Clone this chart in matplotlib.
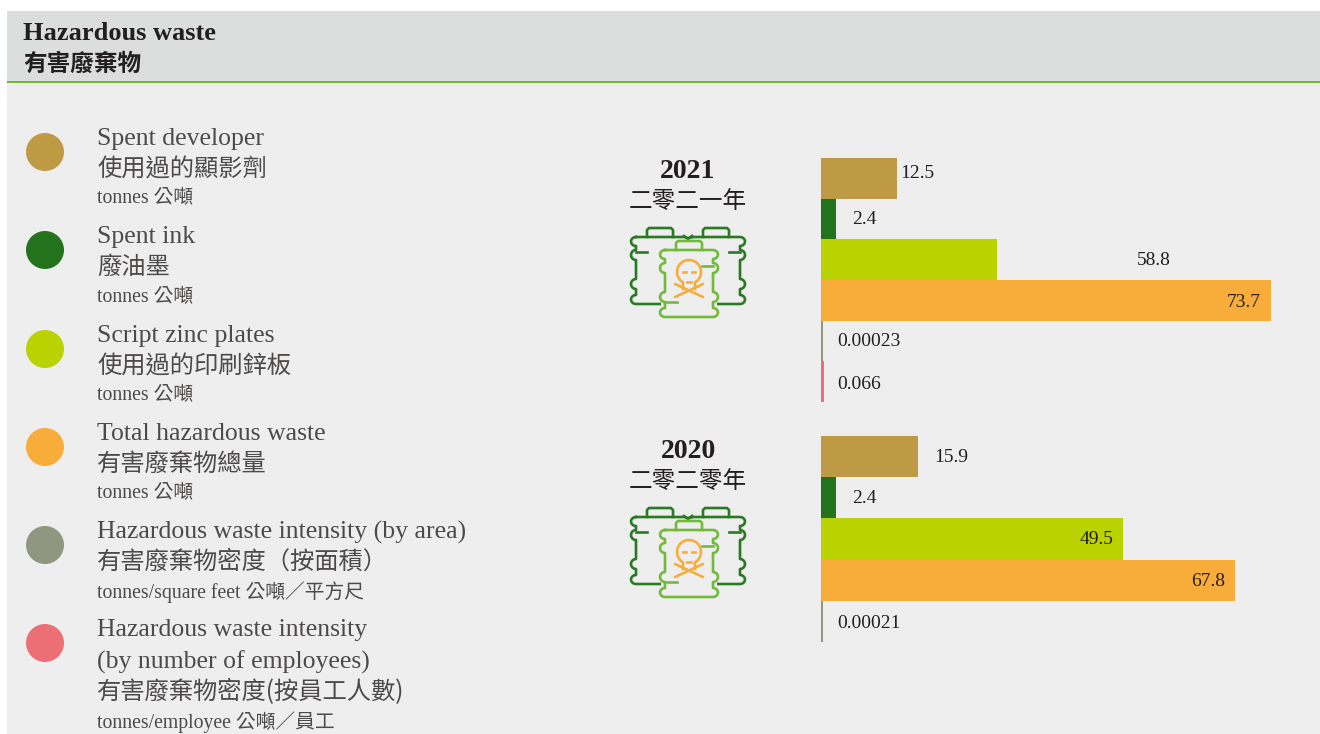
import numpy as np
import matplotlib
matplotlib.use('Agg')
import matplotlib.pyplot as plt
from matplotlib.patches import Rectangle, Circle

SERIF = ['Liberation Serif', 'Noto Sans CJK TC', 'DejaVu Sans']
CJK = ['Noto Sans CJK TC', 'DejaVu Sans']
plt.rcParams['font.family'] = SERIF

W, H = 1320, 734
PX_PER_UNIT = 6.106

# Data
colors = ['#bf9a45', '#23721c', '#bad300', '#f8ac3a', '#8f9781', '#ed6f76']
# drawn bar lengths (the tiny ones have a minimum width)
lengths_2021 = [12.5, 2.4, 28.8, 73.7, 0.3, 0.5]
lengths_2020 = [15.9, 2.4, 49.5, 67.8, 0.3]
labels_2021 = ['12.5', '2.4', '58.8', '73.7', '0.00023', '0.066']
labels_2020 = ['15.9', '2.4', '49.5', '67.8', '0.00021']

legend_en = [['Spent developer'], ['Spent ink'], ['Script zinc plates'],
             ['Total hazardous waste'], ['Hazardous waste intensity (by area)'],
             ['Hazardous waste intensity', '(by number of employees)']]
legend_zh = ['使用過的顯影劑', '廢油墨', '使用過的印刷鋅板', '有害廢棄物總量',
             '有害廢棄物密度（按面積）', '有害廢棄物密度(按員工人數)']
legend_unit = ['tonnes 公噸', 'tonnes 公噸', 'tonnes 公噸', 'tonnes 公噸',
               'tonnes/square feet 公噸／平方尺', 'tonnes/employee 公噸／員工']

# Layout (pixels)
legend_dots_y = [152, 250, 349, 447, 545, 643]
legend_rows_y = [[136, 167, 197], [234, 265, 296], [333, 364, 394],
                 [431, 462, 492], [529, 560, 591], [627, 659, 690, 721]]
label_x_2021 = [900, 852, 1137, 1227, 837, 837]
label_x_2020 = [934, 852, 1080, 1191, 837]
label_dy_2021 = [-5, 1, 1, 2, 1, 3]
label_dy_2020 = [1, 1, 1, 1, 2]
BAR_X0 = 821
TEXT = '#231f20'
GREY_TEXT = '#4d4a4a'

fig = plt.figure(figsize=(W / 100, H / 100), dpi=100, facecolor='white')

# full figure axes in pixel coordinates for the panel and texts
bg = fig.add_axes([0, 0, 1, 1])
bg.set_xlim(0, W)
bg.set_ylim(H, 0)
bg.axis('off')
bg.add_patch(Rectangle((7, 11), W - 7, H - 11, fc='#eeeeee', ec='none'))
bg.add_patch(Rectangle((7, 11), W - 7, 70, fc='#dcdedd', ec='none'))
bg.add_patch(Rectangle((7, 80.5), W - 7, 2.5, fc='#6cbb2e', ec='none'))

bg.text(23, 34, 'Hazardous waste', fontsize=19, fontweight='bold', color=TEXT, va='center')
bg.text(23, 64, '有害廢棄物', fontsize=17, fontweight='bold', family=CJK, color=TEXT, va='center')

for i, y in enumerate(legend_dots_y):
    bg.add_patch(Circle((45, y), 19, fc=colors[i], ec='none'))
    rows = legend_rows_y[i]
    for j, line in enumerate(legend_en[i]):
        bg.text(97, rows[j] + 3, line, fontsize=18.5, color=GREY_TEXT, va='center')
    bg.text(97, rows[-2] + 2, legend_zh[i], fontsize=17.5, family=CJK, color=GREY_TEXT, va='center')
    bg.text(97, rows[-1] + 1, legend_unit[i], fontsize=14.2, color=GREY_TEXT, va='center')


def barrel(cx, top, half, color, z):
    # outline of one barrel, mirrored around cx; the sides carry four rounded bumps
    xs, ys = [-half + 5], [top + 9]
    for y1, y2 in [(9, 18), (22, 32), (51, 61), (67, 76)]:
        s = np.linspace(0, np.pi, 12)
        xs += list(-half + 5 - 5 * np.sin(s))
        ys += list(top + y1 + (y2 - y1) * (1 - np.cos(s)) / 2)
    xs = np.array(xs)
    ys = np.array(ys)
    px = np.concatenate([cx + xs, cx - xs[::-1], [cx + xs[0]]])
    py = np.concatenate([ys, ys[::-1], [ys[0]]])
    bg.plot(px, py, color=color, lw=1.9, solid_joinstyle='round', zorder=z)
    # lid
    bg.plot([cx - 13, cx - 13, cx - 11, cx + 11, cx + 13, cx + 13],
            [top + 9, top + 2, top, top, top + 2, top + 9],
            color=color, lw=1.9, solid_joinstyle='round', zorder=z)


def icon(dy):
    dark, light, orange = '#2a7a24', '#72bb3a', '#f8ac3a'
    barrel(660, 228 + dy, 29, dark, 2)
    barrel(716, 228 + dy, 29, dark, 2)
    # front barrel hides the inner half of the back ones
    bg.add_patch(Rectangle((661, 239 + dy), 56, 78, fc='#eeeeee', ec='none', zorder=2.5))
    bg.plot([684, 688, 692], [236 + dy, 239 + dy, 236 + dy], color=dark, lw=1.9, zorder=2.6)
    barrel(689, 241 + dy, 29, light, 3)
    # short ticks on the barrel sides
    bg.plot([636, 647], [252 + dy, 252 + dy], color=dark, lw=1.9, zorder=2)
    bg.plot([729, 740], [252 + dy, 252 + dy], color=dark, lw=1.9, zorder=2)
    bg.plot([665, 677], [302 + dy, 302 + dy], color=light, lw=1.9, zorder=3)
    bg.plot([702, 713], [266 + dy, 266 + dy], color=light, lw=1.9, zorder=3)
    # skull and bones
    t = np.linspace(np.radians(-60), np.radians(240), 40)
    hx = 689 + 12 * np.cos(t)
    hy = 272 + dy - 12 * np.sin(t)
    bg.plot(np.concatenate([[695], hx, [683]]), np.concatenate([[289 + dy], hy, [289 + dy]]),
            color=orange, lw=1.9, zorder=4)
    for x1, x2, y1 in [(683, 686, 272), (692, 695, 272), (687, 691, 282)]:
        bg.plot([x1, x2], [y1 + dy, y1 + dy], color=orange, lw=1.9, zorder=4)
    bg.plot([675, 703], [297 + dy, 284 + dy], color=orange, lw=1.9, zorder=4, solid_capstyle='round')
    bg.plot([675, 703], [284 + dy, 297 + dy], color=orange, lw=1.9, zorder=4, solid_capstyle='round')


for year, year_zh, y0, dy in [('2021', '二零二一年', 169, 0), ('2020', '二零二零年', 449, 280)]:
    bg.text(688, y0 + 2, year, fontsize=20, fontweight='bold', color=TEXT, ha='center', va='center')
    bg.text(688, y0 + 32, year_zh, fontsize=17, family=CJK, fontweight='medium',
            color=TEXT, ha='center', va='center')
    icon(dy)


def bars(lengths, labels, label_x, label_dy, top, bottom):
    # one axes per year, 1 unit = PX_PER_UNIT pixels
    right = 1300
    ax = fig.add_axes([BAR_X0 / W, 1 - bottom / H, (right - BAR_X0) / W, (bottom - top) / H])
    ax.patch.set_alpha(0)
    ax.axis('off')
    ypos = list(range(len(lengths)))
    ax.barh(ypos, lengths, height=1.0, color=colors[:len(lengths)], linewidth=0)
    ax.set_xlim(0, (right - BAR_X0) / PX_PER_UNIT)
    ax.set_ylim(len(lengths) - 0.5, -0.5)
    for y, lab, lx, ldy in zip(ypos, labels, label_x, label_dy):
        ax.annotate(lab, xy=(0, y), xytext=(lx - BAR_X0, -ldy), textcoords='offset pixels',
                    fontsize=14, color=TEXT, va='center')


bars(lengths_2021, labels_2021, label_x_2021, label_dy_2021, 158, 402)
bars(lengths_2020, labels_2020, label_x_2020, label_dy_2020, 436, 642)

fig.savefig('out.png', dpi=100)
